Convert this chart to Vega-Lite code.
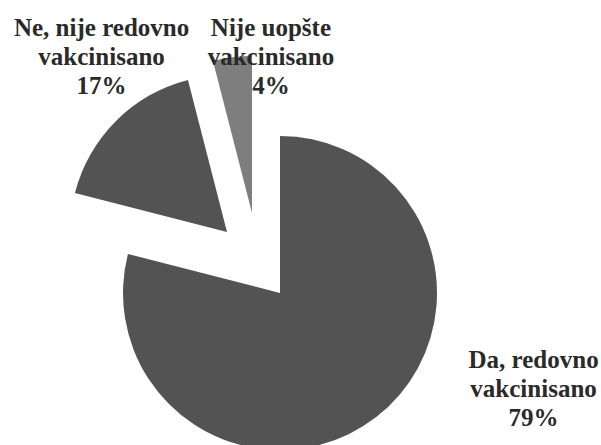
{
  "$schema": "https://vega.github.io/schema/vega-lite/v6.json",
  "width": 560,
  "height": 304,
  "autosize": {"type": "none"},
  "padding": {"left": 0, "top": 141, "right": 41, "bottom": 0},
  "background": "white",
  "view": {"stroke": null},
  "data": {
    "values": [
      {"category": "Da, redovno vakcinisano", "label": "Da, redovno\nvakcinisano\n79%", "value": 79},
      {"category": "Ne, nije redovno vakcinisano", "label": "Ne, nije redovno\nvakcinisano\n17%", "value": 17},
      {"category": "Nije uopšte vakcinisano", "label": "Nije uopšte\nvakcinisano\n4%", "value": 4}
    ]
  },
  "transform": [
    {"stack": "value", "groupby": [], "sort": [{"field": "value", "order": "descending"}], "as": ["v0", "v1"]},
    {"calculate": "(datum.v0 + datum.v1) / 2", "as": "mid"}
  ],
  "layer": [
    {
      "transform": [{"filter": "datum.category === 'Da, redovno vakcinisano'"}],
      "mark": {"type": "arc", "outerRadius": 157, "fill": "#535353"},
      "encoding": {
        "theta": {"field": "v0", "type": "quantitative", "scale": {"domain": [0, 100]}},
        "theta2": {"field": "v1"}
      }
    },
    {
      "transform": [{"filter": "datum.category === 'Ne, nije redovno vakcinisano'"}],
      "mark": {"type": "arc", "outerRadius": 157, "fill": "#535353", "xOffset": -53, "yOffset": -61},
      "encoding": {
        "theta": {"field": "v0", "type": "quantitative", "scale": {"domain": [0, 100]}},
        "theta2": {"field": "v1"}
      }
    },
    {
      "transform": [{"filter": "datum.category === 'Nije uopšte vakcinisano'"}],
      "mark": {"type": "arc", "outerRadius": 157, "fill": "#7e7e7e", "xOffset": -28, "yOffset": -80},
      "encoding": {
        "theta": {"field": "v0", "type": "quantitative", "scale": {"domain": [0, 100]}},
        "theta2": {"field": "v1"}
      }
    },
    {
      "transform": [{"filter": "datum.category === 'Da, redovno vakcinisano'"}],
      "mark": {"type": "text", "radius": 200, "dx": 131, "dy": -91, "align": "center", "baseline": "middle", "lineBreak": "\n", "lineHeight": 29, "font": "Liberation Serif", "fontWeight": "bold", "fontSize": 25, "fill": "#2a2a2a"},
      "encoding": {
        "theta": {"field": "mid", "type": "quantitative", "scale": {"domain": [0, 100]}},
        "text": {"field": "label", "type": "nominal"}
      }
    },
    {
      "transform": [{"filter": "datum.category === 'Ne, nije redovno vakcinisano'"}],
      "mark": {"type": "text", "radius": 200, "dx": -37, "dy": -124, "align": "center", "baseline": "middle", "lineBreak": "\n", "lineHeight": 29, "font": "Liberation Serif", "fontWeight": "bold", "fontSize": 25, "fill": "#2a2a2a"},
      "encoding": {
        "theta": {"field": "mid", "type": "quantitative", "scale": {"domain": [0, 100]}},
        "text": {"field": "label", "type": "nominal"}
      }
    },
    {
      "transform": [{"filter": "datum.category === 'Nije uopšte vakcinisano'"}],
      "mark": {"type": "text", "radius": 200, "dx": 16, "dy": -67, "align": "center", "baseline": "middle", "lineBreak": "\n", "lineHeight": 29, "font": "Liberation Serif", "fontWeight": "bold", "fontSize": 25, "fill": "#2a2a2a"},
      "encoding": {
        "theta": {"field": "mid", "type": "quantitative", "scale": {"domain": [0, 100]}},
        "text": {"field": "label", "type": "nominal"}
      }
    }
  ]
}
